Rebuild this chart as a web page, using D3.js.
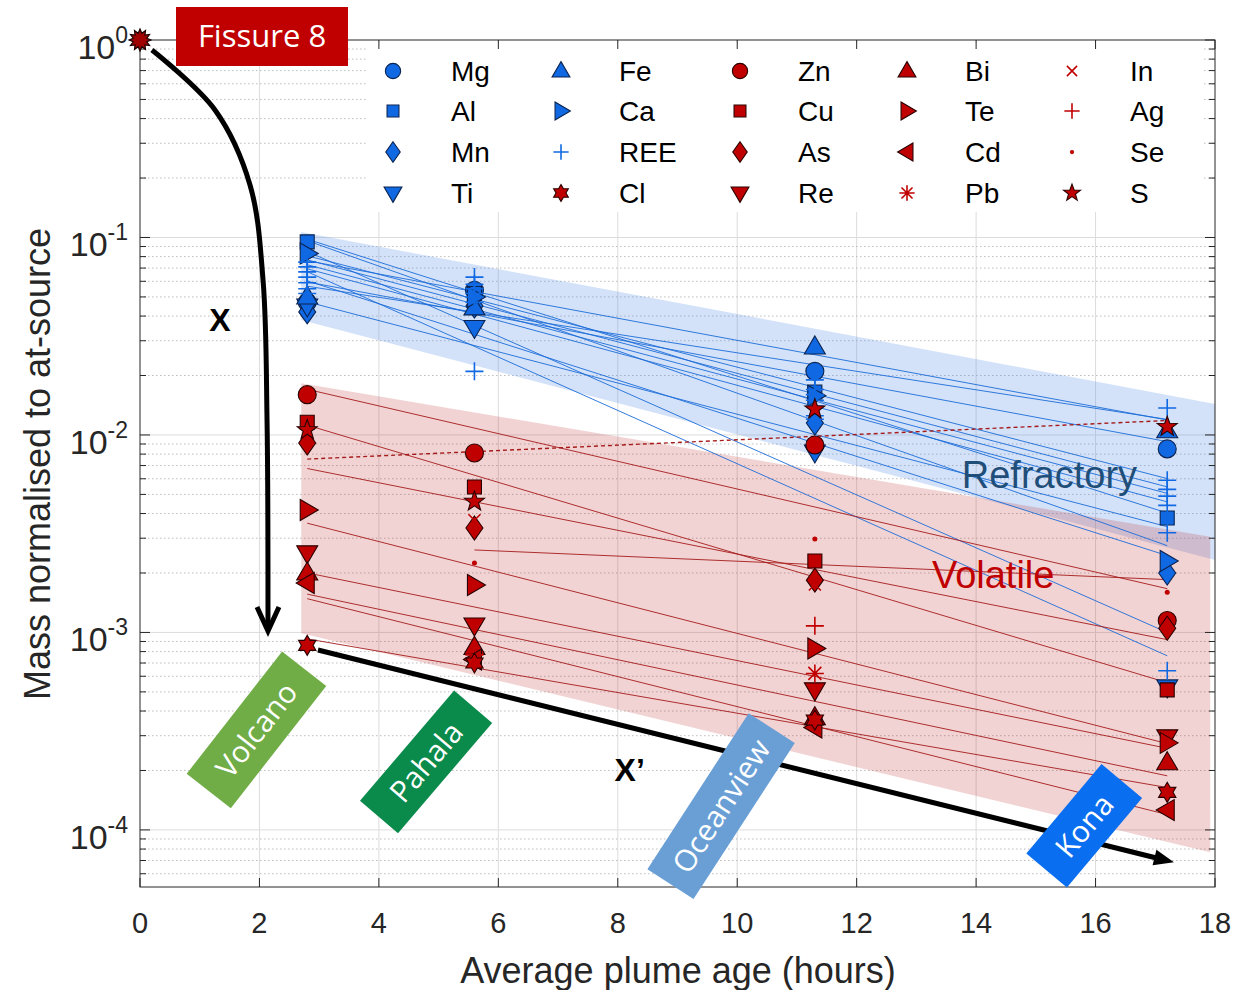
<!DOCTYPE html>
<html>
<head>
<meta charset="utf-8">
<script src="https://cdn.jsdelivr.net/npm/d3@7"></script>
<style>
  body { margin: 0; background: #fff; }
  text { font-family: 'Liberation Sans', Arial, sans-serif; }
</style>
</head>
<body>
<div id="chart"></div>
<script>
// sampling sites and plume ages (hours)
const sites = ['Volcano', 'Pahala', 'Oceanview', 'Kona'];
const ages = [2.8, 5.6, 11.3, 17.2];

// refractory elements, mass normalised to at-source
const mg = [0.047, 0.054, 0.021, 0.0085];
const al = [0.095, 0.052, 0.0165, 0.0038];
const mn = [0.042, 0.045, 0.0115, 0.0020];
const ti = [0.045, 0.035, 0.0082, 0.00053];
const fe = [0.050, 0.044, 0.0279, 0.0105];
const ca = [0.083, 0.050, 0.0158, 0.0023];
const ree = [
  [0.075, 0.063, 0.019, 0.0137],
  [0.071, 0.058, 0.017, 0.0059],
  [0.067, 0.055, 0.016, 0.0053],
  [0.063, 0.052, 0.015, 0.0049],
  [0.059, 0.050, 0.014, 0.0044],
  [0.055, 0.021, 0.0125, 0.0032],
  [0.052, 0.047, 0.012, 0.00064]
];

// volatile elements
const zn = [0.016, 0.0081, 0.0089, 0.00115];
const cu = [0.0116, 0.00545, 0.0023, 0.000512];
const as = [0.0091, 0.00338, 0.00184, 0.00105];
const re = [0.00253, 0.00109, 0.000512, 0.000296];
const bi = [0.0020, 0.00084, 0.00037, 0.000219];
const te = [0.00417, 0.00174, 0.00083, 0.000276];
const cd = [0.00178, 0.00073, 0.00033, 0.000126];
const pb = [null, null, 0.00062, null];
const inn = [null, 0.0037, 0.00175, null];
const ag = [null, 0.00077, 0.00108, null];
const se = [null, 0.00225, 0.00297, 0.0016];
const s = [0.0106, 0.0046, 0.0135, 0.0110];
const cl = [0.00086, 0.00070, 0.00036, 0.000155];

// envelopes [age, value]
const refractoryBand = [[2.7, 0.1066], [18, 0.01435], [18, 0.00233], [2.7, 0.0382]];
const volatileBand = [[2.7, 0.0183], [17.92, 0.00305], [17.92, 0.000077], [2.7, 0.00099]];

const xTicks = [0, 2, 4, 6, 8, 10, 12, 14, 16, 18];
const yTicks = [1, 1e-1, 1e-2, 1e-3, 1e-4];
const yTickLabels = ['0', '-1', '-2', '-3', '-4'];

const legendCols = [
  ['Mg', 'Al', 'Mn', 'Ti'],
  ['Fe', 'Ca', 'REE', 'Cl'],
  ['Zn', 'Cu', 'As', 'Re'],
  ['Bi', 'Te', 'Cd', 'Pb'],
  ['In', 'Ag', 'Se', 'S']
];

const BLUE = '#1069e3', RED = '#c00000';

const series = [
  { name: 'Mg', vals: mg, shape: 'circle', col: BLUE },
  { name: 'Al', vals: al, shape: 'square', col: BLUE },
  { name: 'Mn', vals: mn, shape: 'diamond', col: BLUE },
  { name: 'Ti', vals: ti, shape: 'down', col: BLUE },
  { name: 'Fe', vals: fe, shape: 'up', col: BLUE },
  { name: 'Ca', vals: ca, shape: 'right', col: BLUE },
  ...ree.map(v => ({ name: 'REE', vals: v, shape: 'plus', col: BLUE })),
  { name: 'Zn', vals: zn, shape: 'circle', col: RED },
  { name: 'Cu', vals: cu, shape: 'square', col: RED },
  { name: 'As', vals: as, shape: 'diamond', col: RED },
  { name: 'Re', vals: re, shape: 'down', col: RED },
  { name: 'Bi', vals: bi, shape: 'up', col: RED },
  { name: 'Te', vals: te, shape: 'right', col: RED },
  { name: 'Cd', vals: cd, shape: 'left', col: RED },
  { name: 'Pb', vals: pb, shape: 'asterisk', col: RED },
  { name: 'In', vals: inn, shape: 'cross', col: RED },
  { name: 'Ag', vals: ag, shape: 'plus', col: RED },
  { name: 'Se', vals: se, shape: 'dot', col: RED },
  { name: 'S', vals: s, shape: 'pentagram', col: RED, dashed: true },
  { name: 'Cl', vals: cl, shape: 'hexagram', col: RED }
];

function starPts(n, R, r) {
  return d3.range(2 * n).map(i => {
    const a = Math.PI * i / n - Math.PI / 2, rr = i % 2 ? r : R;
    return [rr * Math.cos(a), rr * Math.sin(a)];
  });
}
function poly(p) { return 'M' + p.map(q => q.join(',')).join('L') + 'Z'; }

function shapePath(type, k) {
  const c = v => v * k;
  switch (type) {
    case 'circle': { const r = c(9); return `M${-r},0a${r},${r} 0 1,0 ${2 * r},0a${r},${r} 0 1,0 ${-2 * r},0Z`; }
    case 'square': return poly([[-c(7), -c(7)], [c(7), -c(7)], [c(7), c(7)], [-c(7), c(7)]]);
    case 'diamond': return poly([[0, -c(12)], [c(8.5), 0], [0, c(12)], [-c(8.5), 0]]);
    case 'up': return poly([[0, -c(11)], [c(10.5), c(7)], [-c(10.5), c(7)]]);
    case 'down': return poly([[0, c(11)], [c(10.5), -c(7)], [-c(10.5), -c(7)]]);
    case 'right': return poly([[c(11), 0], [-c(7), -c(10.5)], [-c(7), c(10.5)]]);
    case 'left': return poly([[-c(11), 0], [c(7), -c(10.5)], [c(7), c(10.5)]]);
    case 'hexagram': return poly(starPts(6, c(10), c(5.8)));
    case 'pentagram': return poly(starPts(5, c(10.5), c(4.3)));
    case 'plus': return `M${-c(9)},0H${c(9)}M0,${-c(9)}V${c(9)}`;
    case 'cross': return `M${-c(6)},${-c(6)}L${c(6)},${c(6)}M${-c(6)},${c(6)}L${c(6)},${-c(6)}`;
    case 'asterisk': return `M${-c(9)},0H${c(9)}M0,${-c(9)}V${c(9)}M${-c(6.5)},${-c(6.5)}L${c(6.5)},${c(6.5)}M${-c(6.5)},${c(6.5)}L${c(6.5)},${-c(6.5)}`;
    case 'dot': { const r = c(2.5); return `M${-r},0a${r},${r} 0 1,0 ${2 * r},0a${r},${r} 0 1,0 ${-2 * r},0Z`; }
  }
}
const lineShapes = ['plus', 'cross', 'asterisk'];
function styleMarker(sel, d) {
  if (lineShapes.includes(d.shape)) {
    sel.attr('fill', 'none').attr('stroke', d.col).attr('stroke-width', 1.6);
  } else if (d.shape === 'dot') {
    sel.attr('fill', d.col).attr('stroke', 'none');
  } else {
    sel.attr('fill', d.col).attr('stroke', d.col === BLUE ? '#0b2350' : '#2a0000').attr('stroke-width', 1.1);
  }
}

// log-linear fit of one series, drawn over the ages it was measured at
function fitLine(vals) {
  const p = vals.map((v, i) => [ages[i], v]).filter(q => q[1] != null);
  if (p.length < 3) return null;
  const mx = d3.mean(p, q => q[0]), my = d3.mean(p, q => Math.log10(q[1]));
  const b = d3.sum(p, q => (q[0] - mx) * (Math.log10(q[1]) - my)) / d3.sum(p, q => (q[0] - mx) ** 2);
  const f = t => Math.pow(10, my + b * (t - mx));
  const x0 = p[0][0], x1 = p[p.length - 1][0];
  return [[x0, f(x0)], [x1, f(x1)]];
}

const W = 1246, H = 990;
const svg = d3.select('#chart').append('svg').attr('width', W).attr('height', H);

const x = d3.scaleLinear().domain([0, 18]).range([140, 1215]);
const y = d3.scaleLog().domain([5.14e-5, 1]).range([887, 40]);

svg.append('defs').append('clipPath').attr('id', 'clip')
  .append('rect').attr('x', 140).attr('y', 40).attr('width', 1075).attr('height', 847);

const minorVals = [];
for (let e = -5; e < 0; e++) for (let m = 2; m <= 9; m++) {
  const v = m * Math.pow(10, e);
  if (v >= y.domain()[0] && v <= 1) minorVals.push(v);
}

// grid
const grid = svg.append('g');
grid.selectAll('.gx').data(xTicks.slice(1, -1)).join('line')
  .attr('x1', d => x(d)).attr('x2', d => x(d)).attr('y1', 40).attr('y2', 887)
  .attr('stroke', '#dcdcdc').attr('stroke-width', 1);
grid.selectAll('.gy').data(yTicks.slice(1)).join('line')
  .attr('x1', 140).attr('x2', 1215).attr('y1', d => y(d)).attr('y2', d => y(d))
  .attr('stroke', '#dcdcdc').attr('stroke-width', 1);
grid.selectAll('.gm').data(minorVals).join('line')
  .attr('x1', 140).attr('x2', 1215).attr('y1', d => y(d)).attr('y2', d => y(d))
  .attr('stroke', '#bdbdbd').attr('stroke-width', 1).attr('stroke-dasharray', '1.5,2.5');

// envelopes
const plot = svg.append('g').attr('clip-path', 'url(#clip)');
const bandPath = d3.line().x(d => x(d[0])).y(d => y(d[1]));
plot.append('path').attr('d', bandPath(refractoryBand) + 'Z')
  .attr('fill', 'rgb(79,139,231)').attr('fill-opacity', 0.25);
plot.append('path').attr('d', bandPath(volatileBand) + 'Z')
  .attr('fill', 'rgb(190,35,35)').attr('fill-opacity', 0.2);

// fitted decay lines
series.forEach(d => {
  const f = fitLine(d.vals);
  if (!f) return;
  plot.append('path').attr('d', bandPath(f)).attr('fill', 'none')
    .attr('stroke', d.col === BLUE ? '#1c6cd8' : '#a51b1b')
    .attr('stroke-width', d.dashed ? 1.4 : 0.9)
    .attr('stroke-dasharray', d.dashed ? '4,3' : null);
});

// markers (refractory first, volatile on top)
[...series.filter(d => d.col === BLUE), ...series.filter(d => d.col === RED)].forEach(d => {
  d.vals.forEach((v, i) => {
    if (v == null) return;
    svg.append('path').attr('d', shapePath(d.shape, 1))
      .attr('transform', `translate(${x(ages[i])},${y(v)})`)
      .call(styleMarker, d);
  });
});

// legend
const byName = {};
series.forEach(d => { if (!byName[d.name]) byName[d.name] = d; });
svg.append('rect').attr('x', 366).attr('y', 43).attr('width', 838).attr('height', 169).attr('fill', '#fff');
const colX = [393, 561, 740, 907, 1072];
const rowY = [71, 111, 152, 193];
legendCols.forEach((col, ci) => col.forEach((nm, ri) => {
  const d = byName[nm];
  svg.append('path').attr('d', shapePath(d.shape, 0.85))
    .attr('transform', `translate(${colX[ci]},${rowY[ri]})`).call(styleMarker, d);
  svg.append('text').attr('x', colX[ci] + 58).attr('y', rowY[ri] + 10)
    .attr('font-size', 28).attr('fill', '#000').text(nm);
}));

// axes box and ticks
const ax = svg.append('g').attr('stroke', '#262626').attr('stroke-width', 1);
ax.append('rect').attr('x', 140).attr('y', 40).attr('width', 1075).attr('height', 847).attr('fill', 'none');
xTicks.forEach(t => {
  ax.append('line').attr('x1', x(t)).attr('x2', x(t)).attr('y1', 887).attr('y2', 878);
  ax.append('line').attr('x1', x(t)).attr('x2', x(t)).attr('y1', 40).attr('y2', 49);
});
yTicks.forEach(t => {
  ax.append('line').attr('x1', 140).attr('x2', 150).attr('y1', y(t)).attr('y2', y(t));
  ax.append('line').attr('x1', 1215).attr('x2', 1205).attr('y1', y(t)).attr('y2', y(t));
});
minorVals.forEach(t => {
  ax.append('line').attr('x1', 140).attr('x2', 146).attr('y1', y(t)).attr('y2', y(t));
  ax.append('line').attr('x1', 1215).attr('x2', 1209).attr('y1', y(t)).attr('y2', y(t));
});

svg.selectAll('.xl').data(xTicks).join('text')
  .attr('x', d => x(d)).attr('y', 933).attr('text-anchor', 'middle')
  .attr('font-size', 29).attr('fill', '#262626').text(d => d);
yTicks.forEach((t, i) => {
  const tx = svg.append('text').attr('x', 128).attr('y', y(t) + 19).attr('text-anchor', 'end')
    .attr('font-size', 34).attr('fill', '#262626').text('10');
  tx.append('tspan').attr('dy', -16).attr('font-size', 23).text(yTickLabels[i]);
});
svg.append('text').attr('x', 678).attr('y', 983).attr('text-anchor', 'middle')
  .attr('font-size', 36).attr('fill', '#262626').text('Average plume age (hours)');
svg.append('text').attr('transform', 'translate(50,464) rotate(-90)').attr('text-anchor', 'middle')
  .attr('font-size', 36).attr('fill', '#262626').text('Mass normalised to at-source');

// band names
svg.append('text').attr('x', x(13.76)).attr('y', y(0.0054)).attr('font-size', 38)
  .attr('fill', '#1f4e79').text('Refractory');
svg.append('text').attr('x', x(13.26)).attr('y', y(0.00168)).attr('font-size', 38)
  .attr('fill', RED).text('Volatile');

// X arrow from the fissure to the volcano site
const curve = [[0.2, 0.89], [1.256, 0.442], [1.842, 0.1845], [2.06, 0.061], [2.127, 0.0119], [2.143, 0.00109]];
const curveLine = d3.line().x(d => x(d[0])).y(d => y(d[1])).curve(d3.curveCatmullRom);
svg.append('path').attr('d', curveLine(curve)).attr('fill', 'none').attr('stroke', '#000').attr('stroke-width', 5);
const tip = [x(2.143), y(0.00109) + 6];
svg.append('path').attr('d', `M${tip[0] - 11},${tip[1] - 24}L${tip[0]},${tip[1]}L${tip[0] + 11},${tip[1] - 24}`)
  .attr('fill', 'none').attr('stroke', '#000').attr('stroke-width', 5).attr('stroke-linejoin', 'miter');

// X' arrow along the transect
const a0 = [x(2.98), y(0.000815)], a1 = [x(17.28), y(6.89e-5)];
const ang = Math.atan2(a1[1] - a0[1], a1[0] - a0[0]);
const back = [a1[0] - 16 * Math.cos(ang), a1[1] - 16 * Math.sin(ang)];
svg.append('line').attr('x1', a0[0]).attr('y1', a0[1]).attr('x2', back[0]).attr('y2', back[1])
  .attr('stroke', '#000').attr('stroke-width', 5);
svg.append('path')
  .attr('d', `M18,0L-2,-8L-2,8Z`)
  .attr('transform', `translate(${back[0]},${back[1]}) rotate(${ang * 180 / Math.PI})`)
  .attr('fill', '#000');

svg.append('text').attr('x', x(1.34)).attr('y', y(0.0382)).attr('dy', '0.35em').attr('text-anchor', 'middle')
  .attr('font-size', 32).attr('font-weight', 'bold').text('X');
svg.append('text').attr('x', x(8.2)).attr('y', y(2.01e-4)).attr('dy', '0.35em').attr('text-anchor', 'middle')
  .attr('font-size', 32).attr('font-weight', 'bold').text('X’');

// site tags
const siteTags = [
  { name: sites[0], cx: 1.95, cy: 3.21e-4, w: 155, h: 56, rot: -52, col: '#70ad47' },
  { name: sites[1], cx: 4.79, cy: 2.21e-4, w: 145, h: 50, rot: -49.5, col: '#0a8a4b' },
  { name: sites[2], cx: 9.73, cy: 1.32e-4, w: 186, h: 55, rot: -57, col: '#6a9fd6' },
  { name: sites[3], cx: 15.81, cy: 1.05e-4, w: 117, h: 53, rot: -50, col: '#0a6ef0' }
];
siteTags.forEach(t => {
  const g = svg.append('g').attr('transform', `translate(${x(t.cx)},${y(t.cy)}) rotate(${t.rot})`);
  g.append('rect').attr('x', -t.w / 2).attr('y', -t.h / 2).attr('width', t.w).attr('height', t.h).attr('fill', t.col);
  g.append('text').attr('text-anchor', 'middle').attr('dy', '0.36em').attr('fill', '#fff')
    .attr('font-size', 30).style('font-family', "'Open Sans', sans-serif").text(t.name);
});

// Fissure 8 source marker and tag
svg.append('path').attr('d', poly(starPts(12, 11, 7)))
  .attr('transform', `translate(${x(0)},${y(1)})`)
  .attr('fill', '#a00000').attr('stroke', '#1a0000').attr('stroke-width', 1.2);
svg.append('rect').attr('x', 176).attr('y', 7).attr('width', 172).attr('height', 59).attr('fill', RED);
svg.append('text').attr('x', 262).attr('y', 36).attr('dy', '0.36em').attr('text-anchor', 'middle')
  .attr('fill', '#fff').attr('font-size', 31).style('font-family', "'Open Sans', sans-serif").text('Fissure 8');
</script>
</body>
</html>
